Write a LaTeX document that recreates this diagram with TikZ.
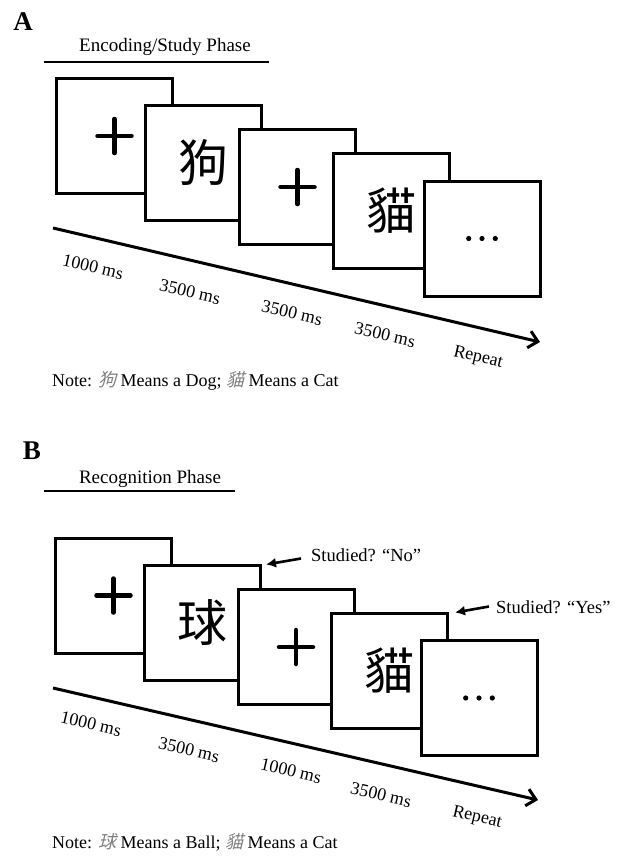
\documentclass[tikz,border=0pt]{standalone}
\usepackage{fontspec}
\setmainfont{Liberation Serif}
\newfontfamily\cjk{Noto Sans CJK TC}
\newfontfamily\cjkit[FakeSlant=0.25]{Noto Sans CJK TC}
\usetikzlibrary{arrows.meta}
\begin{document}
\begin{tikzpicture}[x=1pt,y=-1pt,
  frame/.style={draw, line width=3pt, fill=white, minimum width=116pt, minimum height=115pt, inner sep=0pt, font=\cjk\fontsize{50}{50}\selectfont},
  plus/.style={line width=4.5pt, line cap=round},
  timeline/.style={line width=3pt, -{Straight Barb[length=9pt,width=17pt,line width=3pt]}},
  lab/.style={rotate=-13, font=\fontsize{18}{18}\selectfont, inner sep=0pt},
  panel/.style={font=\bfseries\fontsize{27}{27}\selectfont, inner sep=0pt},
  title/.style={font=\fontsize{19}{19}\selectfont, inner sep=0pt},
  titleline/.style={line width=1.6pt},
  note/.style={font=\fontsize{18}{18}\selectfont, inner sep=0pt, anchor=west},
  pointer/.style={line width=2.6pt, -{Latex[length=10pt,width=10pt]}},
  say/.style={font=\fontsize{18.5}{18.5}\selectfont, inner sep=0pt, anchor=west}
]
\useasboundingbox[fill=white] (0,0) rectangle (616,857);

% ---------------- Panel A ----------------
\node[panel] (A) at (23,22) {A};
\node[title] (tA) at (165,47) {Encoding/Study Phase};
\coordinate (uA0) at (44,62);
\coordinate (uA1) at (269,62);
\draw[titleline] (uA0) -- (uA1);

\node[frame] (a1) at (114.5,136) {};
\node[frame] (a2) at (203.5,163) {狗};
\node[frame] (a3) at (297.5,187) {};
\node[frame] (a4) at (391.5,211) {貓};
\node[frame] (a5) at (482,238.5) {};
\draw[plus] (a1) +(-17,0) -- +(17,0) (a1) +(0,-17) -- +(0,17);
\draw[plus] (a3) +(-17,0) -- +(17,0) (a3) +(0,-17) -- +(0,17);
\fill (a5) +(-13.3,0) circle (2.6) (a5) circle (2.6) (a5) +(13.3,0) circle (2.6);

\coordinate (tA0) at (53,228);
\coordinate (tA1) at (540,342);
\draw[timeline] (tA0) -- (tA1);

\node[lab] (lA1) at (93,267) {1000 ms};
\node[lab] (lA2) at (190,292) {3500 ms};
\node[lab] (lA3) at (292,313) {3500 ms};
\node[lab] (lA4) at (385,335) {3500 ms};
\node[lab] (lA5) at (478,358) {Repeat};

\node[note] (nA) at (52,381) {Note: {\cjkit\color{gray}狗} Means a Dog; {\cjkit\color{gray}貓} Means a Cat};

% ---------------- Panel B ----------------
\node[panel] (B) at (32,451) {B};
\node[title] (tB) at (150,479) {Recognition Phase};
\coordinate (uB0) at (44,491);
\coordinate (uB1) at (235,491);
\draw[titleline] (uB0) -- (uB1);

\node[frame] (b1) at (113.5,595.5) {};
\node[frame] (b2) at (202,623) {球};
\node[frame] (b3) at (296,647) {};
\node[frame] (b4) at (389.5,671) {貓};
\node[frame] (b5) at (479,698) {};
\draw[plus] (b1) +(-17,0) -- +(17,0) (b1) +(0,-17) -- +(0,17);
\draw[plus] (b3) +(-17,0) -- +(17,0) (b3) +(0,-17) -- +(0,17);
\fill (b5) +(-13.3,0) circle (2.6) (b5) circle (2.6) (b5) +(13.3,0) circle (2.6);

\coordinate (tB0) at (53,688);
\coordinate (tB1) at (538,800);
\draw[timeline] (tB0) -- (tB1);

\node[lab] (lB1) at (91,724) {1000 ms};
\node[lab] (lB2) at (189,750) {3500 ms};
\node[lab] (lB3) at (291,771) {1000 ms};
\node[lab] (lB4) at (381,795) {3500 ms};
\node[lab] (lB5) at (477,818) {Repeat};

\node[say] (sNo) at (311,555) {Studied? “No”};
\node[say] (sYes) at (496,607) {Studied? “Yes”};
\coordinate (pNo0) at (301,558.5);
\coordinate (pNo1) at (266,564.5);
\coordinate (pYes0) at (489,606.5);
\coordinate (pYes1) at (455,612.5);
\draw[pointer] (pNo0) -- (pNo1);
\draw[pointer] (pYes0) -- (pYes1);

\node[note] (nB) at (52,842) {Note: {\cjkit\color{gray}球} Means a Ball; {\cjkit\color{gray}貓} Means a Cat};
\end{tikzpicture}
\end{document}
